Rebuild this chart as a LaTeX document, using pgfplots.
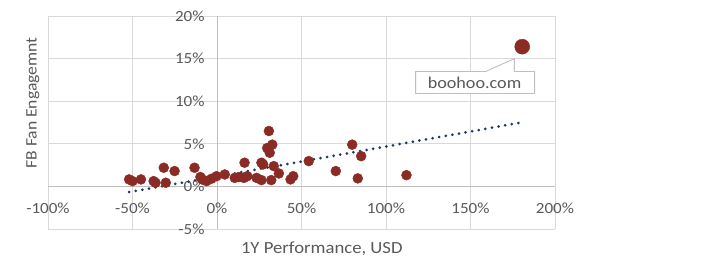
\documentclass[border=0pt]{standalone}
\usepackage{pgfplots}
\pgfplotsset{compat=1.18}
\usepackage{fontspec}
\setmainfont{Carlito}[FakeStretch=1.1]
\definecolor{dotred}{HTML}{8B2B25}
\definecolor{trend}{HTML}{1F3864}
\definecolor{txt}{HTML}{595959}
\definecolor{grd}{HTML}{D9D9D9}
\definecolor{axl}{HTML}{BFBFBF}
\begin{document}
\begin{tikzpicture}
\begin{axis}[
  name=ax,
  scale only axis,
  width=507bp, height=213bp,
  xmin=-100, xmax=200, ymin=-5, ymax=20,
  axis lines=middle,
  axis line style={draw=axl, line width=0.9bp, -},
  hide obscured x ticks=false, hide obscured y ticks=false,
  xtick={-100,-50,0,50,100,150,200},
  xticklabels={-100\%,-50\%,0\%,50\%,100\%,150\%,200\%},
  ytick={-5,0,5,10,15,20},
  yticklabels={-5\%,0\%,5\%,10\%,15\%,20\%},
  major tick length=0pt,
  grid=major,
  grid style={draw=grd, line width=0.9bp},
  tick label style={font=\fontsize{15.5bp}{17bp}\selectfont, text=txt},
  xticklabel style={anchor=north, yshift=-13bp},
  yticklabel style={anchor=east, xshift=-9bp},
  xlabel={1Y Performance, USD},
  ylabel={FB Fan Engagemnt},
  xlabel style={font=\fontsize{17bp}{19bp}\selectfont, text=txt, inner sep=1bp, at={(axis description cs:0.540,-0.094)}, anchor=center},
  ylabel style={font=\fontsize{16bp}{18bp}\selectfont, text=txt, at={(axis description cs:-0.0296,0.5915)}, anchor=center, rotate=90},
  clip=false,
]
\addplot[only marks, mark=*, mark size=5bp, mark options={fill=dotred, draw=dotred}] coordinates {
(-52,0.82) (-50,0.62) (-45,0.82) (-37.5,0.62) (-36.4,0.43) (-31.5,2.19) (-30.3,0.43)
(-25.1,1.8) (-13.3,2.19) (-9.8,1.1) (-8.8,0.82) (-6.2,0.62) (-3.3,0.9) (-0.3,1.2)
(4.6,1.4) (10.5,1.0) (12.9,1.1) (16.3,2.78) (15.9,1.0) (17.9,1.2) (23.4,1.0)
(26.3,2.78) (27.3,2.58) (26.3,0.74) (30.7,6.5) (29.7,4.5) (32.7,4.9) (31.2,3.95)
(33.6,2.38) (32.1,0.74) (36.6,1.52) (43.5,0.82) (45.1,1.2) (54.3,2.97) (70.3,1.8)
(80,4.9) (85.3,3.55) (83.3,0.94) (112.1,1.32)
};
\addplot[only marks, mark=*, mark size=7.5bp, mark options={fill=dotred, draw=dotred}] coordinates {(180.6,16.4)};
\addplot[trend, line width=3bp, line cap=round, dash pattern=on 0pt off 6.7bp] coordinates {(-52,-0.67) (180,7.5)};
\draw[draw=axl, line width=0.9bp, fill=white]
  (axis cs:117.5,13.48) -- (axis cs:158.9,13.48) -- (axis cs:176.0,15.0) -- (axis cs:176.0,13.48)
  -- (axis cs:187.9,13.48) -- (axis cs:187.9,10.9) -- (axis cs:117.5,10.9) -- cycle;
\node[text=txt, font=\fontsize{16.5bp}{18bp}\selectfont] at (axis cs:152.4,12.2) {boohoo.com};
\end{axis}
\pgfresetboundingbox
\path ([shift={(-48bp,-30bp)}]ax.south west) rectangle ([shift={(170bp,16bp)}]ax.north east);
\end{tikzpicture}
\end{document}
